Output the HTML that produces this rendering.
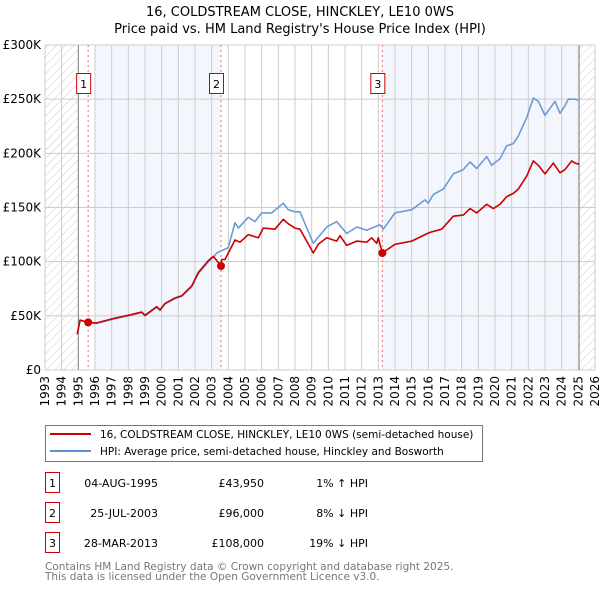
<!DOCTYPE html>
<html><head><meta charset="utf-8">
<style>
body{margin:0;background:#fff;font-family:"DejaVu Sans","Liberation Sans",sans-serif;}
svg text{font-family:"DejaVu Sans","Liberation Sans",sans-serif;}
</style></head>
<body>
<svg id="c" width="600" height="590" xmlns="http://www.w3.org/2000/svg">
<defs><pattern id="hatch" patternUnits="userSpaceOnUse" width="6" height="6" patternTransform="rotate(45)"><line x1="0" y1="0" x2="0" y2="6" stroke="#ccc" stroke-width="1"/></pattern></defs>
<text x="300" y="16" text-anchor="middle" font-size="13" fill="#000">16, COLDSTREAM CLOSE, HINCKLEY, LE10 0WS</text>
<text x="300" y="33" text-anchor="middle" font-size="13" fill="#000">Price paid vs. HM Land Registry's House Price Index (HPI)</text>
<g id="plot"></g>
<g>
<rect x="45.5" y="425.5" width="437" height="36" fill="#fff" stroke="#777"/>
<line x1="50" y1="434" x2="91" y2="434" stroke="#cc0000" stroke-width="2"/>
<text x="100" y="438" font-size="10.5">16, COLDSTREAM CLOSE, HINCKLEY, LE10 0WS (semi-detached house)</text>
<line x1="50" y1="451" x2="91" y2="451" stroke="#5b8fd4" stroke-width="2"/>
<text x="100" y="455" font-size="10.5">HPI: Average price, semi-detached house, Hinckley and Bosworth</text>
</g>
<g id="tbl" font-size="11"></g>
<text x="45" y="570" font-size="10.5" fill="#777">Contains HM Land Registry data © Crown copyright and database right 2025.</text>
<text x="45" y="580" font-size="10.5" fill="#777">This data is licensed under the Open Government Licence v3.0.</text>
</svg>
<script>
const yearTicks=[1993,1994,1995,1996,1997,1998,1999,2000,2001,2002,2003,2004,2005,2006,2007,2008,2009,2010,2011,2012,2013,2014,2015,2016,2017,2018,2019,2020,2021,2022,2023,2024,2025,2026];
const valueTicks=[0,50000,100000,150000,200000,250000,300000];
const valueTickLabels=["£0","£50K","£100K","£150K","£200K","£250K","£300K"];
const hpiYears=[1994.94,1995.1,1995.59,1996.1,1997.1,1998.0,1998.8,1999.0,1999.7,1999.9,2000.2,2000.8,2001.2,2001.8,2002.2,2002.8,2003.1,2003.3,2004.0,2004.4,2004.6,2005.2,2005.6,2006.0,2006.6,2007.3,2007.6,2008.0,2008.3,2009.1,2009.9,2010.5,2011.1,2011.7,2012.3,2013.1,2013.3,2014.0,2015.0,2015.8,2016.0,2016.3,2016.9,2017.5,2018.1,2018.5,2018.9,2019.5,2019.8,2020.3,2020.7,2021.1,2021.4,2021.9,2022.3,2022.6,2023.0,2023.6,2023.9,2024.2,2024.4,2024.8,2025.05];
const hpiValues=[33000,46000,44000,43000,47000,50000,53000,50000,58000,55000,61000,66000,68000,77000,89000,100000,104000,108000,113000,136000,131000,141000,137000,145000,145000,154000,148000,146000,146000,117000,132000,137000,126000,132000,129000,134000,130000,145000,148000,157000,154000,162000,167000,181000,185000,192000,186000,197000,189000,195000,207000,209000,216000,233000,251000,248000,235000,248000,237000,244000,250000,250000,249000];
const priceYears=[1994.94,1995.1,1995.59,1996.1,1997.1,1998.0,1998.8,1999.0,1999.7,1999.9,2000.2,2000.8,2001.2,2001.8,2002.2,2002.8,2003.1,2003.56,2003.6,2003.8,2004.4,2004.7,2005.2,2005.8,2006.1,2006.8,2007.3,2007.6,2008.0,2008.3,2009.1,2009.4,2009.9,2010.5,2010.7,2011.1,2011.7,2012.3,2012.6,2012.9,2013.0,2013.24,2014.0,2015.0,2015.8,2016.1,2016.8,2017.5,2018.1,2018.5,2018.9,2019.5,2019.9,2020.3,2020.7,2021.1,2021.4,2021.9,2022.3,2022.6,2023.0,2023.5,2023.9,2024.2,2024.6,2024.8,2025.05];
const priceValues=[33000,46000,43950,43500,47500,50500,53500,50500,58500,55500,61500,66500,68500,77500,90000,101000,105000,96000,102000,102000,120000,118000,125000,122000,131000,130000,139000,135000,131000,130000,108000,116000,122000,119000,124000,115000,119000,118000,122000,117000,122000,108000,116000,119000,125000,127000,130000,142000,143000,149000,145000,153000,149000,153000,160000,163000,167000,179000,193000,189000,181000,191000,182000,185000,193000,191000,190000];
const saleYears=[1995.59,2003.56,2013.24];
const salePrices=[43950,96000,108000];
const saleLabels=["1","2","3"];
const saleDates=["04-AUG-1995","25-JUL-2003","28-MAR-2013"];
const salePriceText=["£43,950","£96,000","£108,000"];
const saleHpiText=["1% ↑ HPI","8% ↓ HPI","19% ↓ HPI"];

const X0=45,X1=595,Y0=370,Y1=45;
const xs=y=>X0+(y-1993)/(2026-1993)*(X1-X0);
const ys=v=>Y0-v/300000*(Y0-Y1);
const NS="http://www.w3.org/2000/svg";
const plot=document.getElementById('plot');
function mk(tag,attrs,parent){const e=document.createElementNS(NS,tag);for(const k in attrs)e.setAttribute(k,attrs[k]);(parent||plot).appendChild(e);return e;}

let e;
e=mk('rect',{x:xs(1996),y:Y1,width:xs(2003.56)-xs(1996),height:Y0-Y1,fill:'#eef3fc',opacity:0.7});


e=mk('rect',{x:xs(2013.24),y:Y1,width:xs(2025.05)-xs(2013.24),height:Y0-Y1,fill:'#eef3fc',opacity:0.7});


e=mk('rect',{x:X0,y:Y1,width:xs(1995)-X0,height:Y0-Y1,fill:'url(#hatch)'});


e=mk('rect',{x:xs(2025.05),y:Y1,width:X1-xs(2025.05),height:Y0-Y1,fill:'url(#hatch)'});



yearTicks.forEach(y=>{
  e=mk('line',{x1:xs(y),x2:xs(y),y1:Y1,y2:Y0,stroke:'#ccc','stroke-width':1});
  
  
  const t=mk('text',{x:0,y:0,'font-size':12,'text-anchor':'end',transform:`translate(${xs(y)+4},${Y0+6}) rotate(-90)`});
  t.textContent=y;
  
  
});
valueTicks.forEach((v,i)=>{
  e=mk('line',{x1:X0,x2:X1,y1:ys(v),y2:ys(v),stroke:'#ccc','stroke-width':1});
  
  
  const t=mk('text',{x:X0-4,y:ys(v)+4,'font-size':12,'text-anchor':'end'});
  t.textContent=valueTickLabels[i];
  
  
});
e=mk('line',{x1:xs(1995),x2:xs(1995),y1:Y1,y2:Y0,stroke:'#888','stroke-width':1});


e=mk('line',{x1:xs(2025.05),x2:xs(2025.05),y1:Y1,y2:Y0,stroke:'#888','stroke-width':1});



saleYears.forEach((y,i)=>{
  e=mk('line',{x1:xs(y),x2:xs(y),y1:Y1,y2:Y0,stroke:'#ff6666','stroke-width':1,'stroke-dasharray':'2,3'});
  
  
  e=mk('rect',{x:xs(y)-11.5,y:73.5,width:14,height:20,fill:'#fff',stroke:'#cc0000'});
  
  
  const t=mk('text',{x:xs(y)-4.5,y:88,'font-size':11,'text-anchor':'middle'});
  t.textContent=saleLabels[i];
  
  
});

const pts=(xa,va)=>xa.map((x,i)=>xs(x).toFixed(1)+','+ys(va[i]).toFixed(1)).join(' ');
e=mk('polyline',{points:pts(hpiYears,hpiValues),fill:'none',stroke:'#6b9bd8','stroke-width':1.6,'stroke-linejoin':'round'});


e=mk('polyline',{points:pts(priceYears,priceValues),fill:'none',stroke:'#cc0000','stroke-width':1.6,'stroke-linejoin':'round'});


saleYears.forEach((y,i)=>{
  e=mk('circle',{cx:xs(y),cy:ys(salePrices[i]),r:4,fill:'#cc0000'});
  
  
});

const tbl=document.getElementById('tbl');
saleLabels.forEach((l,i)=>{
  const y=483+i*30;
  e=mk('rect',{x:45.5,y:y-10.5,width:14,height:20,fill:'#fff',stroke:'#cc0000'},tbl);
  
  
  let t=mk('text',{x:52.5,y:y+4,'text-anchor':'middle'},tbl);t.textContent=l;
  
  
  t=mk('text',{x:158,y:y+4,'text-anchor':'end'},tbl);t.textContent=saleDates[i];
  
  
  t=mk('text',{x:264,y:y+4,'text-anchor':'end'},tbl);t.textContent=salePriceText[i];
  
  
  t=mk('text',{x:368,y:y+4,'text-anchor':'end'},tbl);t.textContent=saleHpiText[i];
  
  
});
</script>
</body></html>
